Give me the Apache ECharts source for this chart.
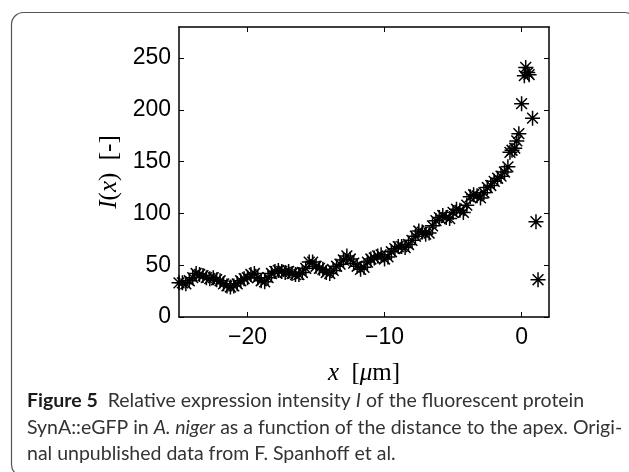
<!DOCTYPE html>
<html>
<head>
<meta charset="utf-8">
<script src="https://cdn.jsdelivr.net/npm/echarts@6/dist/echarts.min.js"></script>
<style>
html,body{margin:0;padding:0;background:#fff;}
#chart{width:629px;height:472px;}
</style>
</head>
<body>
<div id="chart"></div>
<script>
// Distance to apex (µm)
var xPos = [-25.0,-24.75,-24.5,-24.25,-24.0,-23.75,-23.5,-23.25,-23.0,-22.75,-22.5,-22.25,-22.0,-21.75,-21.5,-21.25,-21.0,-20.75,-20.5,-20.25,-20.0,
  -19.75,-19.5,-19.25,-19.0,-18.75,-18.5,-18.25,-18.0,-17.75,-17.5,-17.25,-17.0,-16.75,-16.5,-16.25,-16.0,
  -15.75,-15.5,-15.25,-15.0,-14.75,-14.5,-14.25,-14.0,-13.75,-13.5,-13.25,-13.0,-12.75,-12.5,-12.25,-12.0,
  -11.75,-11.5,-11.25,-11.0,-10.75,-10.5,-10.25,-10.0,-9.75,-9.5,-9.25,-9.0,-8.75,-8.5,-8.25,-8.0,
  -7.75,-7.5,-7.25,-7.0,-6.75,-6.5,-6.25,-6.0,-5.75,-5.5,-5.25,-5.0,-4.75,-4.5,-4.25,-4.0,
  -3.75,-3.5,-3.25,-3.0,-2.75,-2.5,-2.25,-2.0,-1.75,-1.5,-1.25,-1.0,-0.85,-0.7,-0.5,-0.35,-0.2,
  0.0,0.2,0.3,0.45,0.55,0.8,1.05,1.2];
// Intensity I(x)
var intensity = [33,33,32,35,38,42,41,40,38,37,38,36,35,32,30,29,30,32,35,37,38,
  41,42,38,35,34,38,42,44,45,44,43,44,42,41,41,43,
  47,53,53,49,47,46,43,42,45,49,51,55,59,56,52,49,
  46,48,53,56,57,59,60,56,58,63,66,68,68,67,70,74,
  78,83,82,80,81,88,93,96,98,96,95,101,104,103,101,108,
  116,118,117,115,120,125,127,131,134,136,140,145,159,161,163,170,177,
  206,233,241,236,234,192,92,36];
var xTicks = [-20,-10,0];
var yTicks = [0,50,100,150,200,250];

var points = xPos.map(function(x,i){return [x,intensity[i]];});
var star = 'path://M0,-1L0,1M-1,0L1,0M-0.72,-0.72L0.72,0.72M-0.72,0.72L0.72,-0.72';
var tickFont = {fontFamily:'Liberation Sans', fontSize:23, color:'#000'};
var serif = 'Liberation Serif';
var nameRich = {i:{fontFamily:serif, fontStyle:'italic', fontSize:25, color:'#000'}, r:{fontFamily:serif, fontSize:25, color:'#000'}};
var capFont = 'Lato', capSize = 19.5;

var chart = echarts.init(document.getElementById('chart'), null, {renderer:'canvas'});
chart.setOption({
  animation:false,
  backgroundColor:'#fff',
  grid:{left:179, top:27, right:80, bottom:155, containLabel:false},
  xAxis:[{
    type:'value', min:-25, max:2, position:'bottom',
    axisLine:{show:true, onZero:false, lineStyle:{color:'#000', width:1.5}},
    axisTick:{show:true, inside:true, length:5, customValues:xTicks, lineStyle:{color:'#000', width:1}},
    axisLabel:Object.assign({customValues:xTicks, margin:9, formatter:function(v){return v<0?'\u2212'+Math.abs(v):String(v);}}, tickFont),
    splitLine:{show:false},
    name:'{i|x}{r|  [}{i|\u03bc}{r|m]}', nameLocation:'middle', nameGap:44,
    nameTextStyle:{rich:nameRich}
  },{
    type:'value', min:-25, max:2, position:'top',
    axisLine:{show:true, onZero:false, lineStyle:{color:'#000', width:1.5}},
    axisTick:{show:true, inside:true, length:5, customValues:xTicks, lineStyle:{color:'#000', width:1}},
    axisLabel:{show:false}, splitLine:{show:false}
  }],
  yAxis:[{
    type:'value', min:0, max:280, interval:50, position:'left',
    axisLine:{show:true, onZero:false, lineStyle:{color:'#000', width:1.5}},
    axisTick:{show:true, inside:true, length:5, customValues:yTicks, lineStyle:{color:'#000', width:1}},
    axisLabel:Object.assign({customValues:yTicks, margin:8}, tickFont),
    splitLine:{show:false},
    name:'{i|I}{r|(}{i|x}{r|)  [-]}', nameLocation:'middle', nameGap:56, nameRotate:90,
    nameTextStyle:{rich:nameRich}
  },{
    type:'value', min:0, max:280, interval:50, position:'right',
    axisLine:{show:true, onZero:false, lineStyle:{color:'#000', width:1.5}},
    axisTick:{show:true, inside:true, length:5, customValues:yTicks, lineStyle:{color:'#000', width:1}},
    axisLabel:{show:false}, splitLine:{show:false}
  }],
  series:[{
    type:'scatter', xAxisIndex:0, yAxisIndex:0,
    data:points, symbol:star, symbolSize:15, symbolKeepAspect:true,
    itemStyle:{color:'rgba(0,0,0,0)', borderColor:'#000', borderWidth:1.5, opacity:1},
    emphasis:{disabled:true}, clip:true
  }],
  graphic:[
    {type:'rect', left:9, top:10, z:-1, shape:{width:625, height:464, r:12}, style:{fill:'none', stroke:'#555', lineWidth:1.2}},
    {type:'text', left:27, top:391, style:{rich:{b:{fontFamily:capFont, fontWeight:'bold', fontSize:capSize, fill:'#1a1a1a'}, n:{fontFamily:capFont, fontSize:capSize, fill:'#333'}, it:{fontFamily:capFont, fontStyle:'italic', fontSize:capSize, fill:'#333'}},
      text:'{b|Figure 5}{n|  Relative expression intensity }{it|I}{n| of the fluorescent protein}'}},
    {type:'text', left:27, top:418, style:{rich:{n:{fontFamily:capFont, fontSize:capSize, fill:'#333'}, it:{fontFamily:capFont, fontStyle:'italic', fontSize:capSize, fill:'#333'}},
      text:'{n|SynA::eGFP in }{it|A. niger}{n| as a function of the distance to the apex. Origi-}'}},
    {type:'text', left:27, top:444, style:{rich:{n:{fontFamily:capFont, fontSize:capSize, fill:'#333'}},
      text:'{n|nal unpublished data from F. Spanhoff et al.}'}}
  ]
});
</script>
</body>
</html>
